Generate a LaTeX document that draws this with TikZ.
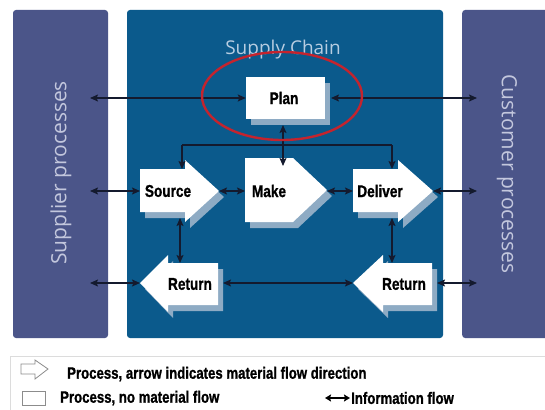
\documentclass[tikz,border=0pt]{standalone}
\usepackage{fontspec}
\setmainfont{Open Sans}
\newfontfamily\boxfont{Liberation Sans}[FakeStretch=0.8,FakeBold=1]
\usetikzlibrary{arrows.meta}

\definecolor{sidecol}{HTML}{4B5589}
\definecolor{chaincol}{HTML}{0B5A8C}
\definecolor{titlecol}{HTML}{B7CDE1}
\definecolor{sidetext}{HTML}{C3C7DD}
\definecolor{shadowcol}{HTML}{8EABC4}
\definecolor{flowcol}{HTML}{141A2E}
\definecolor{ringcol}{HTML}{C4242E}
\definecolor{legendline}{HTML}{DCDCDC}
\definecolor{iconcol}{HTML}{8C8C8C}

% process shape with its drop shadow
\newcommand\procshape[1]{%
  \fill[procshadow,shift={(5,6)}] #1;
  \fill[proc] #1;}

\tikzset{
  sidepanel/.style={fill=sidecol, rounded corners=3pt, minimum height=328, inner sep=0pt},
  chainpanel/.style={fill=chaincol, rounded corners=3pt, minimum height=328, inner sep=0pt},
  proc/.style={fill=white},
  procshadow/.style={fill=shadowcol},
  boxlabel/.style={font=\boxfont\bfseries\fontsize{17}{19}\selectfont, text=black, inner sep=0pt},
  legendtext/.style={font=\boxfont\bfseries\fontsize{16.5}{18}\selectfont, text=black, inner sep=0pt, anchor=west},
  sidelabel/.style={font=\fontsize{21}{23}\selectfont, text=sidetext, inner sep=0pt},
  tip/.style={Stealth[length=8pt,width=7pt,inset=1.5pt]},
  flow/.style={draw=flowcol, line width=1.3pt, {Stealth[length=8pt,width=7pt,inset=1.5pt]}-{Stealth[length=8pt,width=7pt,inset=1.5pt]}},
  bar/.style={draw=flowcol, line width=1.3pt},
  ring/.style={draw=ringcol, line width=2.4pt},
  icon/.style={draw=iconcol, fill=white, line width=0.8pt},
}

\begin{document}
\begin{tikzpicture}[x=1pt,y=-1pt]
\useasboundingbox (0,0) rectangle (545,409);
\clip (0,0) rectangle (545,409);
\fill[white] (0,0) rectangle (545,409);

% the three columns
\node[sidepanel, minimum width=95] (supplier) at (60.5,174) {};
\node[chainpanel, minimum width=316] (chain) at (285,174) {};
\node[sidepanel, minimum width=100, anchor=west] (customer) at (462,174) {};

\node[sidelabel, rotate=90] (supplierT) at (61,173) {Supplier processes};
\node[sidelabel, rotate=-90] (customerT) at (507,174) {Customer processes};
\node[font=\fontsize{19}{21}\selectfont, text=titlecol, inner sep=0pt] (chainT) at (283,50) {Supply Chain};

% Plan
\fill[procshadow] (251,83.5) rectangle (330,124.5);
\node[fill=white, minimum width=79, minimum height=41, inner sep=0pt] (planbox) at (285.5,98) {};
\node[boxlabel] (plan) at (284,98) {Plan};

% Source, Make, Deliver
\procshape{(140,169) -- (185,169) -- (185,160) -- (219,191) -- (185,222) -- (185,212) -- (140,212) -- cycle}
\procshape{(245,158) -- (293,158) -- (327,190) -- (293,222) -- (245,222) -- cycle}
\procshape{(353,169) -- (398,169) -- (398,160) -- (433,191) -- (398,222) -- (398,212) -- (353,212) -- cycle}
% the two Return shapes
\procshape{(140,283) -- (168,255) -- (168,263) -- (218,263) -- (218,305) -- (168,305) -- (168,312) -- cycle}
\procshape{(353,283) -- (383,255) -- (383,263) -- (432,263) -- (432,305) -- (383,305) -- (383,312) -- cycle}

\node[boxlabel] (source) at (168,191) {Source};
\node[boxlabel] (make) at (269,191) {Make};
\node[boxlabel] (deliver) at (380,191) {Deliver};
\node[boxlabel] (returnS) at (190,284) {Return};
\node[boxlabel] (returnD) at (404,284) {Return};

% shape edges used by the information flows
\coordinate (supA) at (90,98);
\coordinate (supB) at (90,191);
\coordinate (supC) at (90,283);
\coordinate (cusA) at (477,98);
\coordinate (cusB) at (477,191);
\coordinate (cusC) at (477,283);
\coordinate (planE) at (331,98);
\coordinate (planS) at (283,125);
\coordinate (srcW) at (140,191);
\coordinate (srcE) at (219,191);
\coordinate (srcN) at (182,169);
\coordinate (srcS) at (180,218);
\coordinate (mkW) at (245,191);
\coordinate (mkE) at (327,191);
\coordinate (mkN) at (283,166);
\coordinate (dlvW) at (353,191);
\coordinate (dlvE) at (433,191);
\coordinate (dlvN) at (392,169);
\coordinate (dlvS) at (392,218);
\coordinate (rsN) at (180,263);
\coordinate (rsW) at (140,283);
\coordinate (rsE) at (223,283);
\coordinate (rdN) at (392,263);
\coordinate (rdW) at (353,283);
\coordinate (rdE) at (437,283);
\coordinate (barW) at (182,145);
\coordinate (barE) at (392,145);

% information flows
\draw[flow] (supA) -- (planbox.west);
\draw[flow] (planE) -- (cusA);
\draw[flow] (planS) -- (mkN);
\draw[bar] (barW) -- (barE);
\draw[bar, -{Stealth[length=8pt,width=7pt,inset=1.5pt]}] (barW) -- (srcN);
\draw[bar, -{Stealth[length=8pt,width=7pt,inset=1.5pt]}] (barE) -- (dlvN);
\draw[flow] (supB) -- (srcW);
\draw[flow] (srcE) -- (mkW);
\draw[flow] (mkE) -- (dlvW);
\draw[flow] (dlvE) -- (cusB);
\draw[flow] (srcS) -- (rsN);
\draw[flow] (dlvS) -- (rdN);
\draw[flow] (supC) -- (rsW);
\draw[flow] (rsE) -- (rdW);
\draw[flow] (rdE) -- (cusC);

% highlight round Plan
\draw[ring] (282,96) ellipse [x radius=80, y radius=44];

% legend
\draw[legendline, fill=white] (10,356) rectangle (600,450);
\draw[icon] (21,364) -- (35,364) -- (35,360) -- (48,369) -- (35,379) -- (35,374) -- (21,374) -- cycle;
\draw[icon] (22,391) rectangle (45,405);
\node[legendtext] (lgArrow) at (67,374) {Process, arrow indicates material flow direction};
\node[legendtext] (lgBox) at (60,398) {Process, no material flow};
\coordinate (infoA) at (325,398);
\coordinate (infoB) at (350,398);
\draw[draw=black, line width=1.2pt, {Stealth[length=6pt,width=7pt,inset=1pt]}-{Stealth[length=6pt,width=7pt,inset=1pt]}] (infoA) -- (infoB);
\node[legendtext] (lgInfo) at (351,398) {Information flow};
\end{tikzpicture}
\end{document}
